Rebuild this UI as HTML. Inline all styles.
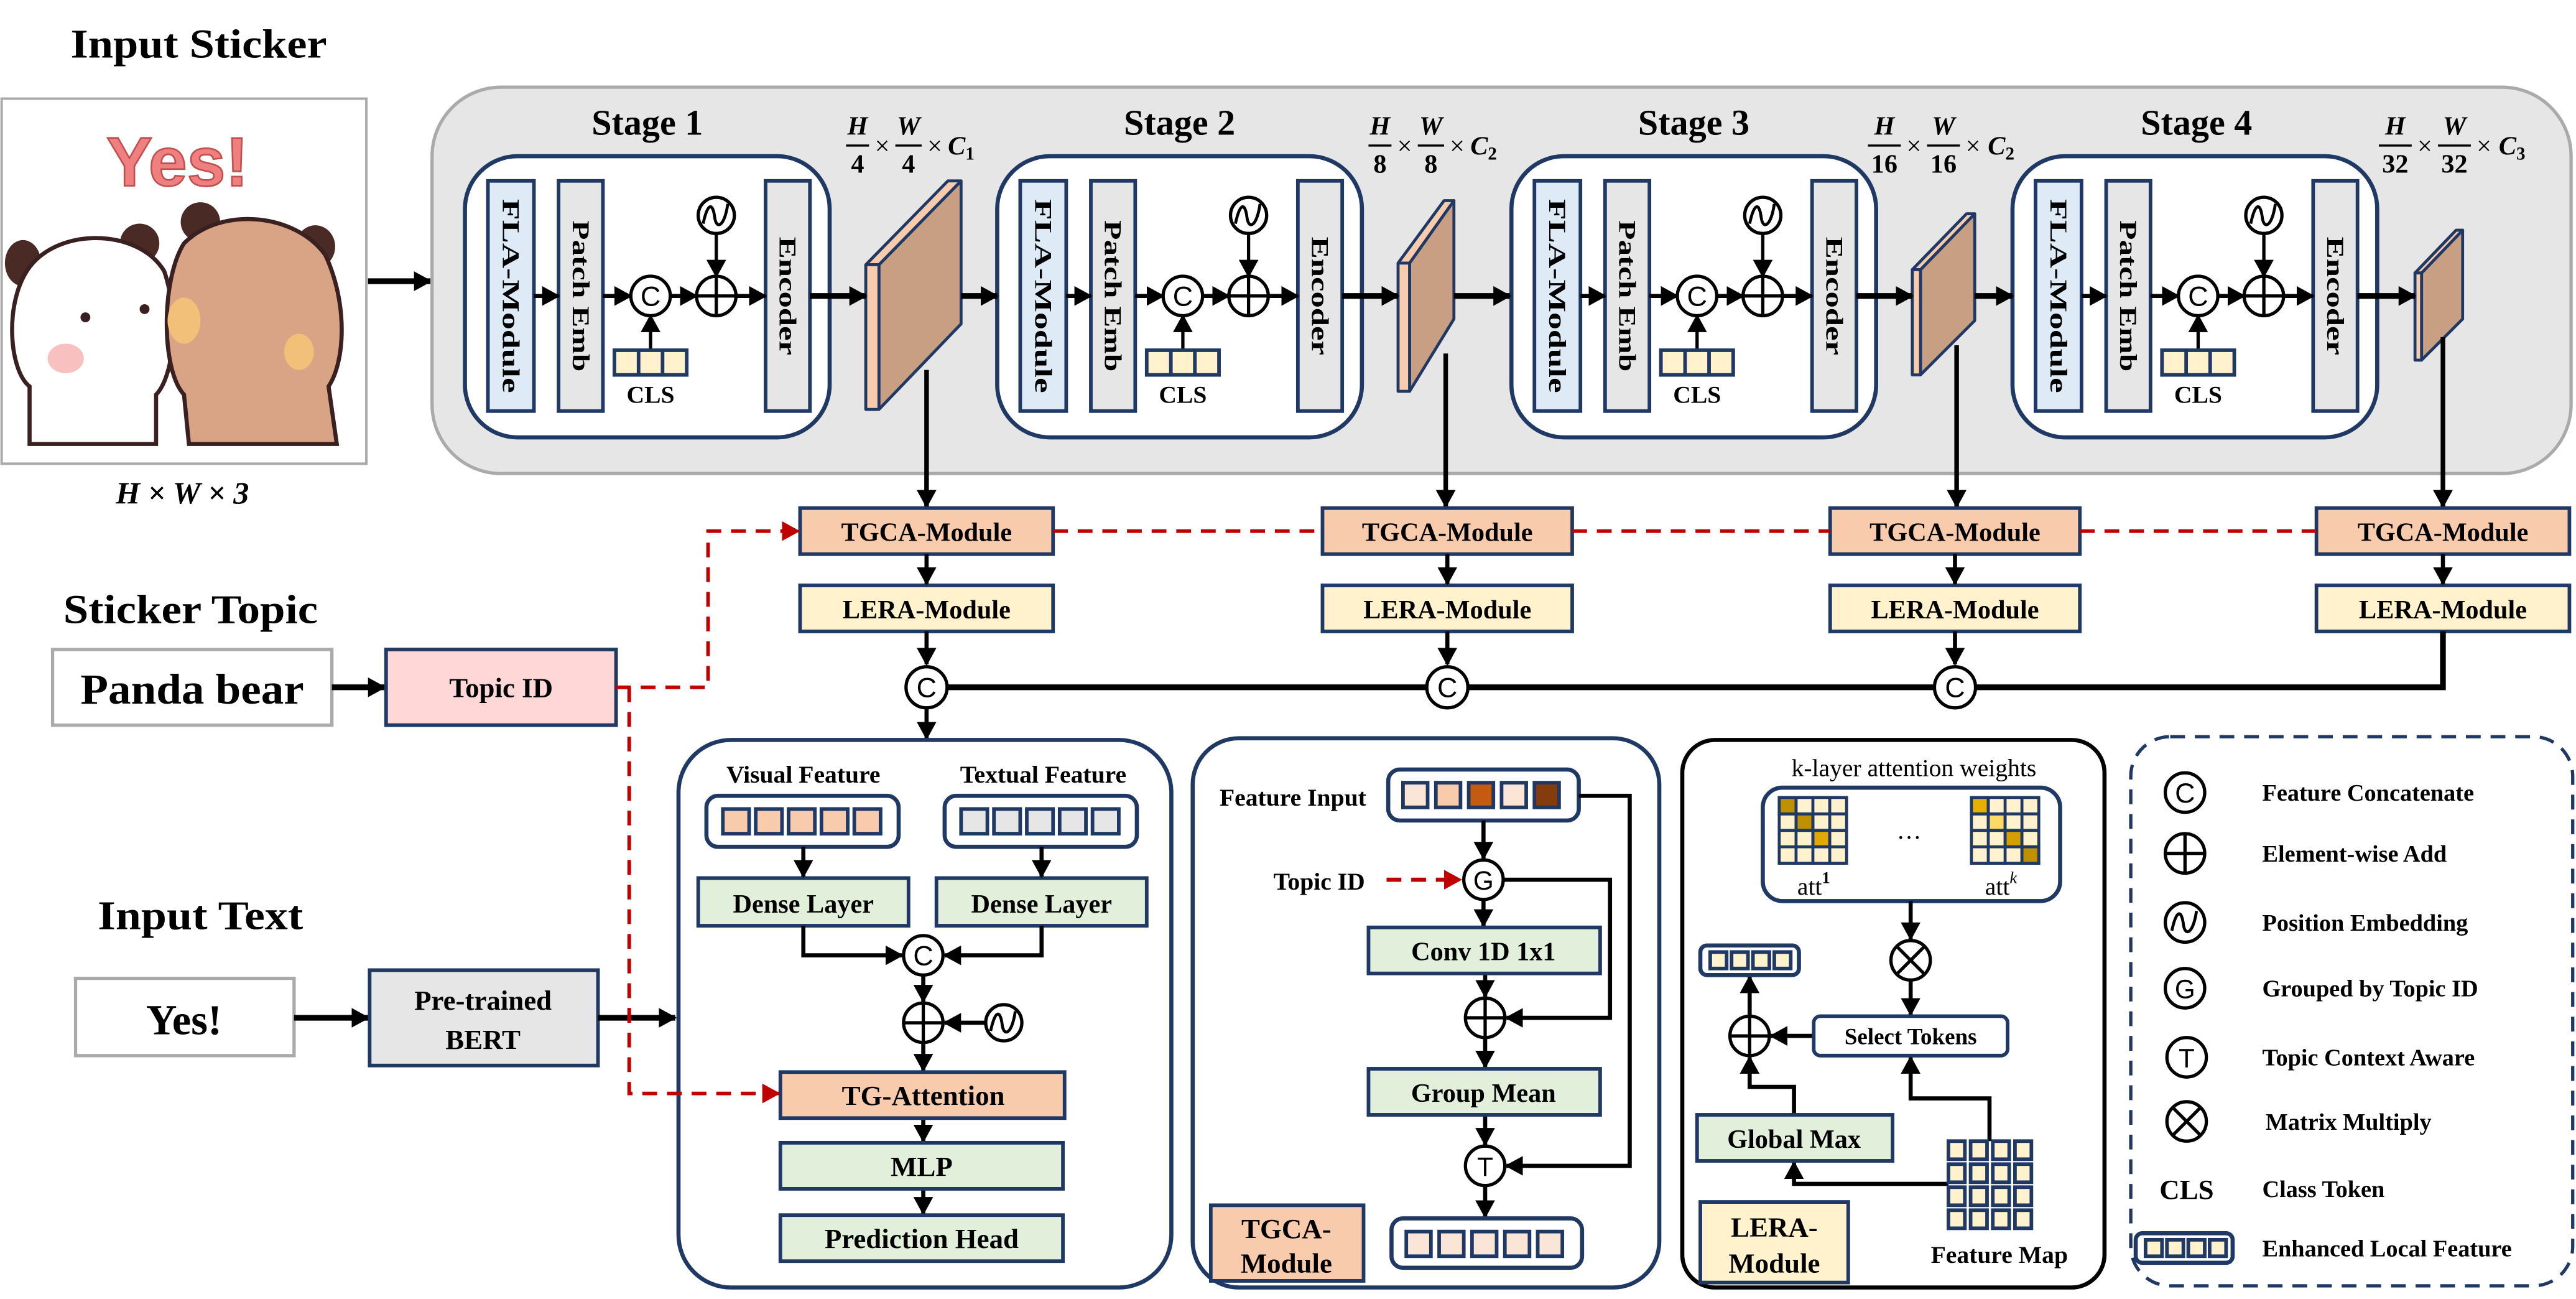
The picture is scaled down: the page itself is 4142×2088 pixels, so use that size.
<!DOCTYPE html>
<html><head><meta charset="utf-8"><style>
html,body{margin:0;padding:0;background:#fff}
svg{display:block}
text{font-family:"Liberation Serif",serif;font-weight:bold;fill:#000}
.s{font-family:"Liberation Sans",sans-serif;font-weight:normal}
.nv{stroke:#1f3864;stroke-width:2.2}
</style></head><body>
<svg xmlns="http://www.w3.org/2000/svg" width="4142" height="2088" viewBox="0 0 1568 790" preserveAspectRatio="none">
<defs>
<marker id="a" markerUnits="userSpaceOnUse" markerWidth="12" markerHeight="12" refX="10" refY="6" orient="auto"><path d="M0,0 L11,6 L0,12 z" fill="#000"/></marker>
<marker id="r" markerUnits="userSpaceOnUse" markerWidth="12" markerHeight="12" refX="10" refY="6" orient="auto"><path d="M0,0 L11,6 L0,12 z" fill="#c00000"/></marker>
<g id="stage">
<rect x="283" y="95" width="222" height="171" rx="32" fill="#fff" stroke="#1f3864" stroke-width="2.5"/>
<rect x="297" y="110" width="28" height="140" fill="#deebf7" class="nv"/>
<rect x="340" y="110" width="27" height="140" fill="#e7e6e6" class="nv"/>
<rect x="466" y="110" width="27" height="140" fill="#e7e6e6" class="nv"/>
<text transform="translate(311,180) rotate(90)" text-anchor="middle" dominant-baseline="central" font-size="15" textLength="118" lengthAdjust="spacingAndGlyphs">FLA-Module</text>
<text transform="translate(353.5,180) rotate(90)" text-anchor="middle" dominant-baseline="central" font-size="15" textLength="92" lengthAdjust="spacingAndGlyphs">Patch Emb</text>
<text transform="translate(479.5,180) rotate(90)" text-anchor="middle" dominant-baseline="central" font-size="15" textLength="72" lengthAdjust="spacingAndGlyphs">Encoder</text>
<circle cx="396" cy="180" r="12" fill="#fff" stroke="#000" stroke-width="2"/>
<text x="396" y="186" text-anchor="middle" font-size="17" class="s">C</text>
<circle cx="436" cy="180" r="12" fill="#fff" stroke="#000" stroke-width="2"/>
<path d="M424,180 H448 M436,168 V192" stroke="#000" stroke-width="2"/>
<circle cx="436" cy="131" r="11" fill="#fff" stroke="#000" stroke-width="2"/>
<path d="M428,136 C431,122 434,124 435,132 C436,140 441,138 443,124" fill="none" stroke="#000" stroke-width="1.8"/>
<g stroke="#000" stroke-width="2.5" fill="none">
<path d="M325,180 H340" marker-end="url(#a)"/>
<path d="M367,180 H384" marker-end="url(#a)"/>
<path d="M408,180 H424" marker-end="url(#a)"/>
<path d="M448,180 H466" marker-end="url(#a)"/>
<path d="M396,213 V192" marker-end="url(#a)" stroke-width="2"/>
<path d="M436,142 V168" marker-end="url(#a)" stroke-width="2"/>
</g>
<rect x="374" y="213" width="44" height="15" fill="#fff2cc" class="nv"/>
<path d="M388.7,213 V228 M403.3,213 V228" class="nv"/>
<text x="396" y="245" text-anchor="middle" font-size="15">CLS</text>
</g>
</defs>

<!-- Input sticker -->
<text x="121" y="35" text-anchor="middle" font-size="25" textLength="156" lengthAdjust="spacingAndGlyphs">Input Sticker</text>
<rect x="1" y="60" width="222" height="222" fill="#fff" stroke="#aaa" stroke-width="1.5"/>
<text x="108" y="113" text-anchor="middle" font-size="42" style="font-family:'Liberation Sans',sans-serif;fill:#f08080;stroke:#c05050;stroke-width:1">Yes!</text>
<ellipse cx="14" cy="160" rx="11" ry="14" fill="#4a2a24"/>
<ellipse cx="85" cy="148" rx="12" ry="12" fill="#4a2a24"/>
<path d="M18,270 L18,235 C5,225 2,180 20,160 C40,138 85,140 100,165 C110,195 105,230 95,240 L95,270 Z" fill="#fff" stroke="#3a2020" stroke-width="2.5"/>
<ellipse cx="40" cy="218" rx="11" ry="9" fill="#f9c0c0"/>
<circle cx="52" cy="193" r="3" fill="#3a2020"/><circle cx="88" cy="188" r="3" fill="#3a2020"/>
<ellipse cx="122" cy="135" rx="12" ry="12" fill="#4a2a24"/>
<ellipse cx="192" cy="150" rx="12" ry="13" fill="#4a2a24"/>
<path d="M115,270 L112,240 C98,225 98,170 112,148 C135,125 180,130 198,155 C212,185 210,220 200,235 L205,270 Z" fill="#d9a486" stroke="#3a2020" stroke-width="2.5"/>
<ellipse cx="182" cy="214" rx="9" ry="11" fill="#f3c07a"/>
<ellipse cx="112" cy="195" rx="10" ry="14" fill="#f3c07a"/>
<text x="111" y="306" text-anchor="middle" font-size="19" font-style="italic">H × W × 3</text>
<path d="M224,171 H262" stroke="#000" stroke-width="3.5" marker-end="url(#a)"/>

<rect x="263" y="53" width="1302" height="235" rx="42" fill="#e6e6e6" stroke="#aaa" stroke-width="2"/>

<text x="394" y="82" text-anchor="middle" font-size="22">Stage 1</text>
<text x="718" y="82" text-anchor="middle" font-size="22">Stage 2</text>
<text x="1031" y="82" text-anchor="middle" font-size="22">Stage 3</text>
<text x="1337" y="82" text-anchor="middle" font-size="22">Stage 4</text>

<use href="#stage"/>
<use href="#stage" transform="translate(324,0)"/>
<use href="#stage" transform="translate(637,0)"/>
<use href="#stage" transform="translate(942,0)"/>

<g stroke="#1f3864" stroke-width="1.8" stroke-linejoin="round">
<polygon points="535,161 585,110 585,197 535,249" fill="#c89f83"/>
<polygon points="527,161 577,110 585,110 535,161" fill="#f8cbad"/>
<polygon points="527,161 535,161 535,249 527,249" fill="#f8cbad"/>
<polygon points="858,160 885,122 885,194 858,238" fill="#c89f83"/>
<polygon points="851,160 879,122 885,122 858,160" fill="#f8cbad"/>
<polygon points="851,160 858,160 858,238 851,238" fill="#f8cbad"/>
<polygon points="1169,164 1202,130 1202,195 1169,228" fill="#c89f83"/>
<polygon points="1164,164 1197,130 1202,130 1169,164" fill="#f8cbad"/>
<polygon points="1164,164 1169,164 1169,228 1164,228" fill="#f8cbad"/>
<polygon points="1474,166 1499,140 1499,194 1474,219" fill="#c89f83"/>
<polygon points="1470,166 1495,140 1499,140 1474,166" fill="#f8cbad"/>
<polygon points="1470,166 1474,166 1474,219 1470,219" fill="#f8cbad"/>
</g>
<g stroke="#000" stroke-width="3.5" fill="none">
<path d="M493,180 H527" marker-end="url(#a)"/>
<path d="M817,180 H851" marker-end="url(#a)"/>
<path d="M1130,180 H1164" marker-end="url(#a)"/>
<path d="M1435,180 H1470" marker-end="url(#a)"/>
<path d="M585,180 H607" marker-end="url(#a)"/>
<path d="M885,180 H919" marker-end="url(#a)"/>
<path d="M1202,180 H1225" marker-end="url(#a)"/>
</g>
<g stroke="#000" stroke-width="2.8" fill="none">
<path d="M564,225 V308" marker-end="url(#a)"/>
<path d="M880,215 V308" marker-end="url(#a)"/>
<path d="M1191,210 V308" marker-end="url(#a)"/>
<path d="M1487,205 V308" marker-end="url(#a)"/>
</g>

<!-- fraction labels -->
<g font-size="16">
<g transform="translate(515,0)">
<text x="7" y="82" text-anchor="middle" font-style="italic">H</text><path d="M0,88.5 H14" stroke="#000" stroke-width="1.3"/><text x="7" y="105" text-anchor="middle">4</text>
<text x="22" y="94" text-anchor="middle" style="font-weight:normal">×</text>
<text x="38" y="82" text-anchor="middle" font-style="italic">W</text><path d="M30,88.5 H46" stroke="#000" stroke-width="1.3"/><text x="38" y="105" text-anchor="middle">4</text>
<text x="54" y="94" text-anchor="middle" style="font-weight:normal">×</text>
<text x="62" y="94" font-style="italic">C<tspan font-size="11" dy="3" font-style="normal">1</tspan></text>
</g>
<g transform="translate(833,0)">
<text x="7" y="82" text-anchor="middle" font-style="italic">H</text><path d="M0,88.5 H14" stroke="#000" stroke-width="1.3"/><text x="7" y="105" text-anchor="middle">8</text>
<text x="22" y="94" text-anchor="middle" style="font-weight:normal">×</text>
<text x="38" y="82" text-anchor="middle" font-style="italic">W</text><path d="M30,88.5 H46" stroke="#000" stroke-width="1.3"/><text x="38" y="105" text-anchor="middle">8</text>
<text x="54" y="94" text-anchor="middle" style="font-weight:normal">×</text>
<text x="62" y="94" font-style="italic">C<tspan font-size="11" dy="3" font-style="normal">2</tspan></text>
</g>
<g transform="translate(1137,0)">
<text x="10" y="82" text-anchor="middle" font-style="italic">H</text><path d="M0,88.5 H20" stroke="#000" stroke-width="1.3"/><text x="10" y="105" text-anchor="middle">16</text>
<text x="28" y="94" text-anchor="middle" style="font-weight:normal">×</text>
<text x="46" y="82" text-anchor="middle" font-style="italic">W</text><path d="M36,88.5 H56" stroke="#000" stroke-width="1.3"/><text x="46" y="105" text-anchor="middle">16</text>
<text x="64" y="94" text-anchor="middle" style="font-weight:normal">×</text>
<text x="73" y="94" font-style="italic">C<tspan font-size="11" dy="3" font-style="normal">2</tspan></text>
</g>
<g transform="translate(1448,0)">
<text x="10" y="82" text-anchor="middle" font-style="italic">H</text><path d="M0,88.5 H20" stroke="#000" stroke-width="1.3"/><text x="10" y="105" text-anchor="middle">32</text>
<text x="28" y="94" text-anchor="middle" style="font-weight:normal">×</text>
<text x="46" y="82" text-anchor="middle" font-style="italic">W</text><path d="M36,88.5 H56" stroke="#000" stroke-width="1.3"/><text x="46" y="105" text-anchor="middle">32</text>
<text x="64" y="94" text-anchor="middle" style="font-weight:normal">×</text>
<text x="73" y="94" font-style="italic">C<tspan font-size="11" dy="3" font-style="normal">3</tspan></text>
</g>
</g>

<g font-size="16">
<rect x="487" y="309" width="154" height="28" fill="#f8cbad" class="nv"/><text x="564" y="329" text-anchor="middle">TGCA-Module</text>
<rect x="805" y="309" width="152" height="28" fill="#f8cbad" class="nv"/><text x="881" y="329" text-anchor="middle">TGCA-Module</text>
<rect x="1114" y="309" width="152" height="28" fill="#f8cbad" class="nv"/><text x="1190" y="329" text-anchor="middle">TGCA-Module</text>
<rect x="1410" y="309" width="154" height="28" fill="#f8cbad" class="nv"/><text x="1487" y="329" text-anchor="middle">TGCA-Module</text>
<rect x="487" y="356" width="154" height="28" fill="#fff2cc" class="nv"/><text x="564" y="376" text-anchor="middle">LERA-Module</text>
<rect x="805" y="356" width="152" height="28" fill="#fff2cc" class="nv"/><text x="881" y="376" text-anchor="middle">LERA-Module</text>
<rect x="1114" y="356" width="152" height="28" fill="#fff2cc" class="nv"/><text x="1190" y="376" text-anchor="middle">LERA-Module</text>
<rect x="1410" y="356" width="154" height="28" fill="#fff2cc" class="nv"/><text x="1487" y="376" text-anchor="middle">LERA-Module</text>
</g>
<g stroke="#000" stroke-width="2.5" fill="none">
<path d="M564,337 V355" marker-end="url(#a)"/><path d="M881,337 V355" marker-end="url(#a)"/>
<path d="M1190,337 V355" marker-end="url(#a)"/><path d="M1487,337 V355" marker-end="url(#a)"/>
<path d="M564,384 V404" marker-end="url(#a)"/><path d="M881,384 V404" marker-end="url(#a)"/>
<path d="M1190,384 V404" marker-end="url(#a)"/>
<path d="M564,418 H1487 V384" stroke-width="3.5"/>
<path d="M564,431 V449" marker-end="url(#a)"/>
</g>
<g>
<circle cx="564" cy="418" r="12.5" fill="#fff" stroke="#000" stroke-width="2"/><text x="564" y="424" text-anchor="middle" font-size="17" class="s">C</text>
<circle cx="881" cy="418" r="12.5" fill="#fff" stroke="#000" stroke-width="2"/><text x="881" y="424" text-anchor="middle" font-size="17" class="s">C</text>
<circle cx="1190" cy="418" r="12.5" fill="#fff" stroke="#000" stroke-width="2"/><text x="1190" y="424" text-anchor="middle" font-size="17" class="s">C</text>
</g>

<text x="116" y="379" text-anchor="middle" font-size="25" textLength="155" lengthAdjust="spacingAndGlyphs">Sticker Topic</text>
<rect x="32" y="395" width="170" height="46" fill="#fff" stroke="#aaa" stroke-width="2"/>
<text x="117" y="428" text-anchor="middle" font-size="26" textLength="136" lengthAdjust="spacingAndGlyphs">Panda bear</text>
<path d="M202,418 H234" stroke="#000" stroke-width="3.5" marker-end="url(#a)"/>
<rect x="235" y="395" width="140" height="46" fill="#ffd7d7" class="nv"/>
<text x="305" y="424" text-anchor="middle" font-size="17">Topic ID</text>
<text x="122" y="565" text-anchor="middle" font-size="25" textLength="125" lengthAdjust="spacingAndGlyphs">Input Text</text>
<rect x="46" y="595" width="133" height="47" fill="#fff" stroke="#aaa" stroke-width="2"/>
<text x="112" y="629" text-anchor="middle" font-size="26">Yes!</text>
<path d="M179,619 H224" stroke="#000" stroke-width="3.5" marker-end="url(#a)"/>
<rect x="225" y="590" width="139" height="58" fill="#e7e6e6" class="nv"/>
<text x="294" y="614" text-anchor="middle" font-size="17">Pre-trained</text>
<text x="294" y="638" text-anchor="middle" font-size="17">BERT</text>

<!-- Visual panel -->
<rect x="413" y="450" width="300" height="333" rx="32" fill="#fff" stroke="#1f3864" stroke-width="2.5"/>
<path d="M364,619 H411" stroke="#000" stroke-width="3.5" marker-end="url(#a)"/>
<text x="489" y="476" text-anchor="middle" font-size="15">Visual Feature</text>
<text x="635" y="476" text-anchor="middle" font-size="15">Textual Feature</text>
<rect x="430" y="484" width="117" height="31" rx="7" fill="#fff" stroke="#1f3864" stroke-width="2.5"/>
<rect x="575" y="484" width="117" height="31" rx="7" fill="#fff" stroke="#1f3864" stroke-width="2.5"/>
<g class="nv" stroke-width="2">
<rect x="440" y="492" width="16" height="15" fill="#f8cbad"/><rect x="460" y="492" width="16" height="15" fill="#f8cbad"/><rect x="480" y="492" width="16" height="15" fill="#f8cbad"/><rect x="500" y="492" width="16" height="15" fill="#f8cbad"/><rect x="520" y="492" width="16" height="15" fill="#f8cbad"/>
<rect x="585" y="492" width="16" height="15" fill="#e7e6e6"/><rect x="605" y="492" width="16" height="15" fill="#e7e6e6"/><rect x="625" y="492" width="16" height="15" fill="#e7e6e6"/><rect x="645" y="492" width="16" height="15" fill="#e7e6e6"/><rect x="665" y="492" width="16" height="15" fill="#e7e6e6"/>
</g>
<rect x="425" y="534" width="128" height="29" fill="#e2efda" class="nv"/><text x="489" y="555" text-anchor="middle" font-size="16">Dense Layer</text>
<rect x="570" y="534" width="128" height="29" fill="#e2efda" class="nv"/><text x="634" y="555" text-anchor="middle" font-size="16">Dense Layer</text>
<g stroke="#000" stroke-width="2.5" fill="none">
<path d="M489,515 V533" marker-end="url(#a)"/><path d="M634,515 V533" marker-end="url(#a)"/>
<path d="M489,563 V581 H549" marker-end="url(#a)"/><path d="M634,563 V581 H575" marker-end="url(#a)"/>
<path d="M562,593 V609" marker-end="url(#a)"/>
<path d="M600,622 H575" marker-end="url(#a)"/>
<path d="M562,634 V651" marker-end="url(#a)"/>
<path d="M562,680 V694" marker-end="url(#a)"/>
<path d="M562,723 V738" marker-end="url(#a)"/>
</g>
<circle cx="562" cy="581" r="12" fill="#fff" stroke="#000" stroke-width="2"/><text x="562" y="587" text-anchor="middle" font-size="17" class="s">C</text>
<circle cx="562" cy="622" r="12" fill="#fff" stroke="#000" stroke-width="2"/><path d="M550,622 H574 M562,610 V634" stroke="#000" stroke-width="2"/>
<circle cx="611" cy="622" r="11" fill="#fff" stroke="#000" stroke-width="2"/><path d="M603,627 C606,613 609,615 610,623 C611,631 616,629 618,615" fill="none" stroke="#000" stroke-width="1.8"/>
<rect x="475" y="652" width="173" height="28" fill="#f8cbad" class="nv"/><text x="562" y="672" text-anchor="middle" font-size="17">TG-Attention</text>
<rect x="475" y="695" width="172" height="28" fill="#e2efda" class="nv"/><text x="561" y="715" text-anchor="middle" font-size="17">MLP</text>
<rect x="475" y="739" width="172" height="28" fill="#e2efda" class="nv"/><text x="561" y="759" text-anchor="middle" font-size="17">Prediction Head</text>

<!-- TGCA panel -->
<rect x="726" y="449" width="284" height="334" rx="28" fill="#fff" stroke="#1f3864" stroke-width="2.5"/>
<text x="787" y="490" text-anchor="middle" font-size="15">Feature Input</text>
<rect x="845" y="468" width="116" height="31" rx="7" fill="#fff" stroke="#1f3864" stroke-width="2.5"/>
<g class="nv" stroke-width="2">
<rect x="854" y="476" width="15" height="15" fill="#fbe5d6"/><rect x="874" y="476" width="15" height="15" fill="#f8cbad"/><rect x="894" y="476" width="15" height="15" fill="#c55a11"/><rect x="914" y="476" width="15" height="15" fill="#fbe5d6"/><rect x="934" y="476" width="15" height="15" fill="#843c0c"/>
</g>
<text x="803" y="541" text-anchor="middle" font-size="15">Topic ID</text>
<path d="M844,535 H889" stroke="#c00000" stroke-width="2.5" stroke-dasharray="9,6" marker-end="url(#r)"/>
<g stroke="#000" stroke-width="2.5" fill="none">
<path d="M961,484 H992 V709 H917" marker-end="url(#a)"/>
<path d="M914,535 H980 V619 H917" marker-end="url(#a)"/>
<path d="M903,499 V522" marker-end="url(#a)"/>
<path d="M903,547 V563" marker-end="url(#a)"/>
<path d="M904,592 V606" marker-end="url(#a)"/>
<path d="M904,631 V649" marker-end="url(#a)"/>
<path d="M904,678 V696" marker-end="url(#a)"/>
<path d="M904,721 V740" marker-end="url(#a)"/>
</g>
<circle cx="903" cy="535" r="12" fill="#fff" stroke="#000" stroke-width="2"/><text x="903" y="541" text-anchor="middle" font-size="16" class="s">G</text>
<rect x="833" y="564" width="141" height="28" fill="#e2efda" class="nv"/><text x="903" y="584" text-anchor="middle" font-size="16">Conv 1D 1x1</text>
<circle cx="904" cy="619" r="12" fill="#fff" stroke="#000" stroke-width="2"/><path d="M892,619 H916 M904,607 V631" stroke="#000" stroke-width="2"/>
<rect x="833" y="650" width="141" height="28" fill="#e2efda" class="nv"/><text x="903" y="670" text-anchor="middle" font-size="16">Group Mean</text>
<circle cx="904" cy="709" r="12" fill="#fff" stroke="#000" stroke-width="2"/><text x="904" y="715" text-anchor="middle" font-size="16" class="s">T</text>
<rect x="847" y="741" width="116" height="30" rx="7" fill="#fff" stroke="#1f3864" stroke-width="2.5"/>
<g class="nv" stroke-width="2">
<rect x="856" y="749" width="15" height="15" fill="#fbe5d6"/><rect x="876" y="749" width="15" height="15" fill="#fbe5d6"/><rect x="896" y="749" width="15" height="15" fill="#fbe5d6"/><rect x="916" y="749" width="15" height="15" fill="#fbe5d6"/><rect x="936" y="749" width="15" height="15" fill="#fbe5d6"/>
</g>
<rect x="737" y="733" width="93" height="46" fill="#f8cbad" class="nv"/>
<text x="783" y="753" text-anchor="middle" font-size="17">TGCA-</text>
<text x="783" y="774" text-anchor="middle" font-size="17">Module</text>

<!-- LERA panel -->
<rect x="1024" y="450" width="257" height="333" rx="20" fill="#fff" stroke="#000" stroke-width="2.5"/>
<text x="1165" y="472" text-anchor="middle" font-size="15" style="font-weight:normal">k-layer attention weights</text>
<rect x="1073" y="479" width="181" height="69" rx="12" fill="#fff" stroke="#1f3864" stroke-width="2.5"/>
<g stroke="#1f3864" stroke-width="1.8">
<rect x="1083" y="485" width="41" height="40" fill="#fff2cc"/>
<rect x="1083" y="485" width="10.25" height="10" fill="#bf9000"/>
<rect x="1093.25" y="495" width="10.25" height="10" fill="#bf9000"/>
<rect x="1103.5" y="505" width="10.25" height="10" fill="#e0a800"/>
<path d="M1093.25,485 V525 M1103.5,485 V525 M1113.75,485 V525 M1083,495 H1124 M1083,505 H1124 M1083,515 H1124" fill="none"/>
<rect x="1200" y="485" width="41" height="40" fill="#fff2cc"/>
<rect x="1200" y="485" width="10.25" height="10" fill="#e6b000"/>
<rect x="1210.25" y="495" width="10.25" height="10" fill="#ffd966"/>
<rect x="1220.5" y="505" width="10.25" height="10" fill="#d4a000"/>
<rect x="1230.75" y="515" width="10.25" height="10" fill="#bf9000"/>
<path d="M1210.25,485 V525 M1220.5,485 V525 M1230.75,485 V525 M1200,495 H1241 M1200,505 H1241 M1200,515 H1241" fill="none"/>
</g>
<text x="1162" y="510" text-anchor="middle" font-size="15" style="font-weight:normal">…</text>
<text x="1104" y="544" text-anchor="middle" font-size="15" style="font-weight:normal">att<tspan font-size="10" dy="-7" font-weight="bold">1</tspan></text>
<text x="1218" y="544" text-anchor="middle" font-size="15" style="font-weight:normal">att<tspan font-size="10" dy="-7" font-style="italic">k</tspan></text>
<g stroke="#000" stroke-width="2.5" fill="none">
<path d="M1163,548 V571" marker-end="url(#a)"/>
<path d="M1163,596 V617" marker-end="url(#a)"/>
<path d="M1104,630 H1078" marker-end="url(#a)"/>
<path d="M1065,618 V594" marker-end="url(#a)"/>
<path d="M1092,678 V661 H1065 V643" marker-end="url(#a)"/>
<path d="M1211,694 V668 H1163 V643" marker-end="url(#a)"/>
<path d="M1186,720 H1092 V707" marker-end="url(#a)"/>
</g>
<circle cx="1163" cy="584" r="12" fill="#fff" stroke="#000" stroke-width="2"/><path d="M1154.5,575.5 L1171.5,592.5 M1171.5,575.5 L1154.5,592.5" stroke="#000" stroke-width="2"/>
<rect x="1104" y="618" width="118" height="24" rx="4" fill="#fff" class="nv" stroke-width="2.5"/>
<text x="1163" y="635" text-anchor="middle" font-size="14">Select Tokens</text>
<circle cx="1065" cy="630" r="12" fill="#fff" stroke="#000" stroke-width="2"/><path d="M1053,630 H1077 M1065,618 V642" stroke="#000" stroke-width="2"/>
<rect x="1035" y="575" width="60" height="18" rx="4" fill="#fff" stroke="#1f3864" stroke-width="2.5"/>
<g class="nv" stroke-width="1.8">
<rect x="1041" y="579" width="10" height="10" fill="#fff2cc"/><rect x="1054" y="579" width="10" height="10" fill="#fff2cc"/><rect x="1067" y="579" width="10" height="10" fill="#fff2cc"/><rect x="1080" y="579" width="10" height="10" fill="#fff2cc"/>
</g>
<rect x="1033" y="678" width="119" height="28" fill="#e2efda" class="nv"/><text x="1092" y="698" text-anchor="middle" font-size="16">Global Max</text>
<g class="nv" stroke-width="2" fill="#fff2cc">
<rect x="1186" y="694" width="10" height="11"/><rect x="1199.5" y="694" width="10" height="11"/><rect x="1213" y="694" width="10" height="11"/><rect x="1226.5" y="694" width="10" height="11"/>
<rect x="1186" y="708" width="10" height="11"/><rect x="1199.5" y="708" width="10" height="11"/><rect x="1213" y="708" width="10" height="11"/><rect x="1226.5" y="708" width="10" height="11"/>
<rect x="1186" y="722" width="10" height="11"/><rect x="1199.5" y="722" width="10" height="11"/><rect x="1213" y="722" width="10" height="11"/><rect x="1226.5" y="722" width="10" height="11"/>
<rect x="1186" y="736" width="10" height="11"/><rect x="1199.5" y="736" width="10" height="11"/><rect x="1213" y="736" width="10" height="11"/><rect x="1226.5" y="736" width="10" height="11"/>
</g>
<text x="1217" y="768" text-anchor="middle" font-size="15">Feature Map</text>
<rect x="1035" y="731" width="90" height="49" fill="#fff2cc" class="nv"/>
<text x="1080" y="752" text-anchor="middle" font-size="17">LERA-</text>
<text x="1080" y="774" text-anchor="middle" font-size="17">Module</text>

<!-- Legend -->
<rect x="1297" y="448" width="269" height="334" rx="24" fill="#fff" stroke="#1f3864" stroke-width="2" stroke-dasharray="9,6"/>
<g font-size="14.5">
<circle cx="1330" cy="482" r="12" fill="#fff" stroke="#000" stroke-width="2"/><text x="1330" y="488" text-anchor="middle" font-size="17" class="s">C</text>
<text x="1377" y="487">Feature Concatenate</text>
<circle cx="1330" cy="519" r="12" fill="#fff" stroke="#000" stroke-width="2"/><path d="M1318,519 H1342 M1330,507 V531" stroke="#000" stroke-width="2"/>
<text x="1377" y="524">Element-wise Add</text>
<circle cx="1330" cy="561" r="12" fill="#fff" stroke="#000" stroke-width="2"/><path d="M1322,566 C1325,552 1328,554 1329,562 C1330,570 1335,568 1337,554" fill="none" stroke="#000" stroke-width="1.8"/>
<text x="1377" y="566">Position Embedding</text>
<circle cx="1330" cy="601" r="12" fill="#fff" stroke="#000" stroke-width="2"/><text x="1330" y="607" text-anchor="middle" font-size="16" class="s">G</text>
<text x="1377" y="606">Grouped by Topic ID</text>
<circle cx="1331" cy="643" r="12" fill="#fff" stroke="#000" stroke-width="2"/><text x="1331" y="649" text-anchor="middle" font-size="16" class="s">T</text>
<text x="1377" y="648">Topic Context Aware</text>
<circle cx="1331" cy="682" r="12" fill="#fff" stroke="#000" stroke-width="2"/><path d="M1322.5,673.5 L1339.5,690.5 M1339.5,673.5 L1322.5,690.5" stroke="#000" stroke-width="2"/>
<text x="1379" y="687">Matrix Multiply</text>
<text x="1331" y="729" text-anchor="middle" font-size="17">CLS</text>
<text x="1377" y="728">Class Token</text>
<rect x="1300" y="750" width="59" height="18" rx="4" fill="#fff" stroke="#1f3864" stroke-width="2.5"/>
<g class="nv" stroke-width="1.8">
<rect x="1306" y="754" width="10" height="10" fill="#fff2cc"/><rect x="1319" y="754" width="10" height="10" fill="#fff2cc"/><rect x="1332" y="754" width="10" height="10" fill="#fff2cc"/><rect x="1345" y="754" width="10" height="10" fill="#fff2cc"/>
</g>
<text x="1377" y="764">Enhanced Local Feature</text>
</g>

<!-- red dashed connectors (on top) -->
<g stroke="#c00000" stroke-width="2.2" fill="none" stroke-dasharray="9,6">
<path d="M641,323 H805"/><path d="M957,323 H1114"/><path d="M1266,323 H1410"/>
<path d="M375,418 H431 V323 H486" marker-end="url(#r)"/>
<path d="M383,418 V665 H474" marker-end="url(#r)"/>
</g>
</svg>
</body></html>
